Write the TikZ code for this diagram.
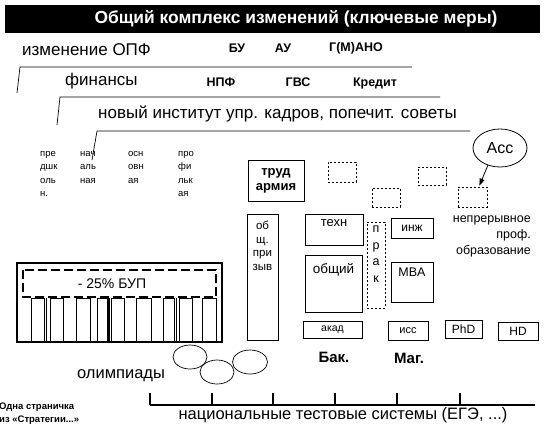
\documentclass[tikz,border=0pt]{standalone}
\usepackage{fontspec}
\setmainfont{Liberation Sans}
\usetikzlibrary{arrows.meta,shapes.geometric,calc}
\begin{document}
\begin{tikzpicture}[x=1pt,y=-1pt,
  txt/.style={inner sep=0pt, font=\fontsize{17}{18}\selectfont},
  btxt/.style={inner sep=0pt, font=\bfseries\fontsize{12.5}{14}\selectfont},
  coltxt/.style={inner sep=0pt, anchor=north west, align=left, font=\fontsize{9.5}{13.5}\selectfont},
  sbox/.style={draw, line width=0.8pt, inner sep=0pt},
  dbox/.style={draw, line width=0.8pt, dash pattern=on 2pt off 2pt, inner sep=0pt},
  bracket/.style={line width=0.7pt},
  pin/.style={line width=0.6pt}
]
\useasboundingbox (0,0) rectangle (545,432);

% title
\fill (5,5) rectangle (540,33);
\node[inner sep=0pt, text=white, font=\bfseries\fontsize{17.4}{18}\selectfont] (title) at (296,19) {Общий комплекс изменений (ключевые меры)};

% row 1
\node[txt, anchor=west] (opf) at (22,50) {изменение ОПФ};
\node[btxt] (bu) at (237,48) {БУ};
\node[btxt] (au) at (283,48) {АУ};
\node[btxt] (gmano) at (356,48) {Г(М)АНО};
\draw[bracket] (17,93) -- (20,67) -- (412,67);

% row 2
\node[txt, anchor=west] (fin) at (65,81) {финансы};
\node[btxt] (npf) at (221,82) {НПФ};
\node[btxt] (gvs) at (298,82) {ГВС};
\node[btxt] (kred) at (375,83) {Кредит};
\draw[bracket] (57,125) -- (60,97) -- (440,97);

% row 3
\node[txt, anchor=west] (inst) at (98,114) {новый институт упр. кадров, попечит. советы};

% columns
\node[coltxt] (c1) at (40,151) {пре\\дшк\\оль\\н.};
\node[coltxt] (c2) at (80,151) {нач\\аль\\ная};
\node[coltxt] (c3) at (128,151) {осн\\овн\\ая};
\node[coltxt] (c4) at (178,151) {про\\фи\\льк\\ая};
\coordinate (c2top) at (92,160);
\draw[bracket] (c2top) -- (97,131) -- (470,131);

% Acc ellipse and arrow
\node[draw, ellipse, line width=0.8pt, minimum width=54, minimum height=38, inner sep=0pt,
      font=\fontsize{16}{18}\selectfont] (acc) at (500,148) {Асс};

% dashed boxes
\node[dbox, minimum width=28, minimum height=20] (dA) at (342,172) {};
\node[dbox, minimum width=28, minimum height=19] (dB) at (386,197.5) {};
\node[dbox, minimum width=28, minimum height=18] (dC) at (432,176) {};
\node[dbox, minimum width=29, minimum height=20] (dD) at (472.5,197) {};
\draw[line width=0.8pt, -{Triangle[length=7pt,width=5pt]}] (acc.235) -- ($(dD.north east)+(-8,-1)$);

% trud armiya
\node[sbox, line width=1pt, minimum width=56, minimum height=41, align=center,
      font=\bfseries\fontsize{13}{15}\selectfont] (trud) at (276,180.5) {труд\\армия};

% obshch prizyv
\node[sbox, minimum width=31, minimum height=126] (prz) at (262.5,277) {};
\node[inner sep=0pt, anchor=north, align=center, font=\fontsize{11.5}{13.5}\selectfont] (przt) at (262.5,221) {об\\щ.\\при\\зыв};

% tekhn, obshchiy
\node[sbox, minimum width=58, minimum height=31] (tekhn) at (334,229.5) {};
\node[inner sep=0pt, anchor=north, font=\fontsize{13}{15}\selectfont] (tekhnt) at (334,219) {техн};
\node[sbox, minimum width=57, minimum height=57] (obsh) at (333.5,283.5) {};
\node[inner sep=0pt, anchor=north, font=\fontsize{13.5}{15}\selectfont] (obsht) at (333.5,263) {общий};

% praktika
\node[dbox, minimum width=18, minimum height=86] (prak) at (376,265) {};
\node[inner sep=0pt, anchor=north, align=center, font=\fontsize{12.5}{16.5}\selectfont] (prakt) at (376,226) {п\\р\\а\\к};

% inzh, MBA
\node[sbox, minimum width=42, minimum height=20, font=\fontsize{12}{14}\selectfont] (inzh) at (412,228) {инж};
\node[sbox, minimum width=42, minimum height=40] (mba) at (412,282) {};
\node[inner sep=0pt, anchor=north, font=\fontsize{12.5}{14}\selectfont] (mbat) at (412,268) {MBA};

% continuous education
\node[inner sep=0pt, anchor=north east, align=right, font=\fontsize{12.5}{16}\selectfont] (npo) at (531,216) {непрерывное\\проф.\\образование};

% bottom row boxes
\node[sbox, minimum width=59, minimum height=17, font=\fontsize{10.5}{12}\selectfont] (akad) at (332.5,330) {акад};
\node[sbox, minimum width=40, minimum height=19, font=\fontsize{11}{12}\selectfont] (iss) at (408,330.5) {исс};
\node[sbox, minimum width=37, minimum height=18, font=\fontsize{12}{14}\selectfont] (phd) at (463.5,329) {PhD};
\node[sbox, minimum width=40, minimum height=18, font=\fontsize{12}{14}\selectfont] (hd) at (518,331) {HD};

\node[inner sep=0pt, font=\bfseries\fontsize{15}{17}\selectfont] (bak) at (334,357) {Бак.};
\node[inner sep=0pt, font=\bfseries\fontsize{15}{17}\selectfont] (mag) at (409,358) {Маг.};

% 25% BUP block
\draw[line width=1.6pt] (17,263) rectangle (222,342);
\draw[line width=1.3pt, dash pattern=on 9pt off 4pt] (23,270) rectangle (216,297);
\node[inner sep=0pt, font=\fontsize{14}{16}\selectfont] (bup) at (112,284) {- 25\% БУП};
\foreach \a/\b in {31/44, 50/63, 76/90, 97/107, 111/124, 136/151, 163/174, 179/192, 202/216}{
  \draw[pin] (\a,342) -- (\a,298) -- (\b,298) -- (\b,342);
}
\foreach \x in {46.5, 109, 176.5}{
  \draw[line width=1.4pt] (\x,298) -- (\x,342);
}

% olympiads
\node[inner sep=0pt, font=\fontsize{16.5}{18}\selectfont] (olymp) at (121,376) {олимпиады};
\node[draw, ellipse, line width=0.7pt, minimum width=34, minimum height=24] (o1) at (190,357) {};
\node[draw, ellipse, line width=0.7pt, minimum width=34, minimum height=24] (o2) at (217,372) {};
\node[draw, ellipse, line width=0.7pt, minimum width=35, minimum height=24] (o3) at (250,362) {};

% national testing scale
\coordinate (s0) at (150,405);
\coordinate (s1) at (535,405);
\draw[line width=2pt] (s0) -- (s1);
\foreach \x in {150,212,273,335,397,460}{
  \draw[line width=2pt] (\x,405) -- (\x,393);
}
\node[inner sep=0pt, font=\fontsize{16.5}{18}\selectfont] (nts) at (343,415) {национальные тестовые системы (ЕГЭ, ...)};

% footnote
\node[inner sep=0pt, anchor=north west, align=left, font=\bfseries\fontsize{9.5}{13}\selectfont] (foot) at (-1,403) {Одна страничка\\из «Стратегии...»};
\end{tikzpicture}
\end{document}
